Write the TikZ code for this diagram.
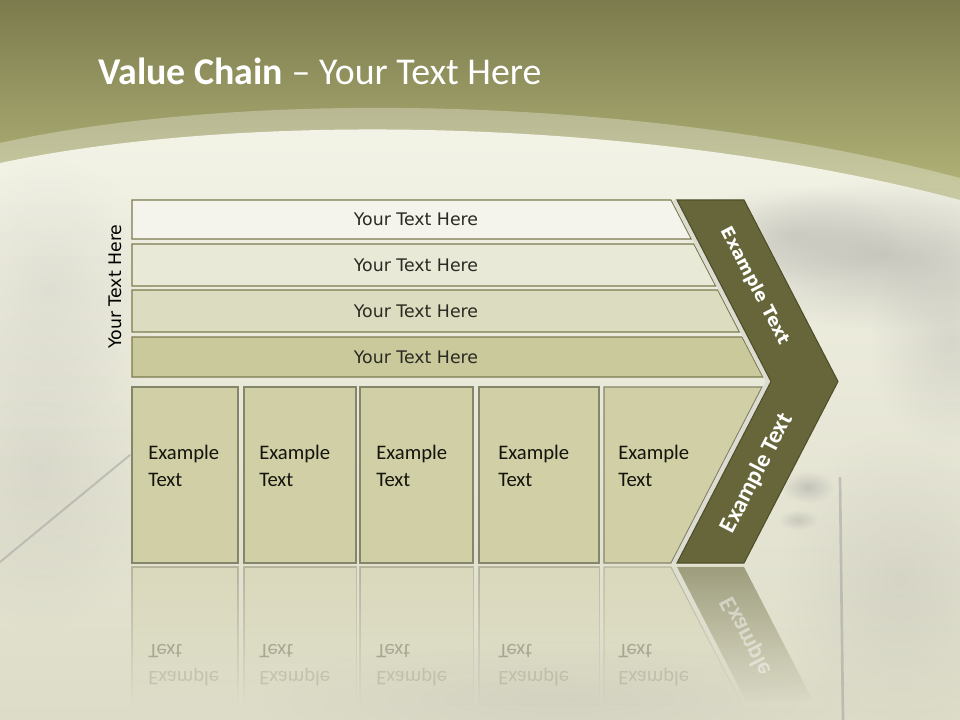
\documentclass[tikz,border=0pt]{standalone}
\usepackage{fontspec}
\setmainfont{Carlito}
\newfontfamily\dvs{DejaVu Sans}
\usetikzlibrary{fadings}
\definecolor{oliveTop}{HTML}{7B7B4D}
\definecolor{oliveLow}{HTML}{B7B97C}
\definecolor{bgTop}{HTML}{F3F3E7}
\definecolor{bgMid}{HTML}{E4E3D0}
\definecolor{bgBot}{HTML}{DDDCC8}
\definecolor{barA}{HTML}{F4F4EC}
\definecolor{barB}{HTML}{E9E9D8}
\definecolor{barC}{HTML}{DCDCC0}
\definecolor{barD}{HTML}{C9C99C}
\definecolor{barline}{HTML}{7B7B4E}
\definecolor{bartxt}{HTML}{2A2A22}
\definecolor{boxfill}{HTML}{D0CFA5}
\definecolor{boxline}{HTML}{85856C}
\definecolor{boxtxt}{HTML}{14140C}
\definecolor{chev}{HTML}{66663A}
\definecolor{chevline}{HTML}{4E4E2A}
\definecolor{stripcol}{HTML}{DCDCD2}
\definecolor{blot}{HTML}{A8A8A4}
\tikzfading[name=reflfade, top color=transparent!55, bottom color=transparent!100]
\tikzfading[name=chevfade, top color=transparent!45, bottom color=transparent!100]
\tikzfading[name=softblob, inner color=transparent!0, outer color=transparent!100]
\tikzset{
  barshape/.style={draw=barline, line width=0.8pt},
  bartext/.style={font=\dvs\fontsize{13}{15}\selectfont, text=bartxt, inner sep=0pt, anchor=base},
  boxshape/.style={draw=boxline, line width=0.8pt, fill=boxfill},
  boxtext/.style={font=\fontsize{15.5}{19}\selectfont, text=boxtxt, inner sep=0pt, anchor=base west},
  chevshape/.style={fill=chev, draw=chevline, line width=0.8pt},
  chevtextA/.style={font=\dvs\bfseries\fontsize{13}{15}\selectfont, text=white, inner sep=0pt},
  chevtextB/.style={font=\bfseries\fontsize{18}{21}\selectfont, text=white, inner sep=0pt},
  stripline/.style={draw=stripcol, line width=3pt},
  blotch/.style={fill=blot, path fading=softblob},
}
\begin{document}
\begin{tikzpicture}[x=0.75pt, y=-0.75pt]
\useasboundingbox (0,0) rectangle (960,720);
\clip (0,0) rectangle (960,720);
% ---------- background ----------
\shade[top color=oliveTop, bottom color=oliveLow] (0,0) rectangle (960,210);
\fill[white, opacity=0.30] (0,143) .. controls (250,88) and (650,96) .. (960,178) -- (960,720) -- (0,720) -- cycle;
\shade[top color=bgTop, middle color=bgMid, bottom color=bgBot]
  (0,163) .. controls (250,110) and (650,118) .. (960,200) -- (960,720) -- (0,720) -- cycle;
% texture blotches
\fill[blotch, opacity=0.55] (885,255) ellipse (170 and 75);
\fill[blotch, opacity=0.35] (790,235) ellipse (110 and 50);
\fill[blotch, opacity=0.30] (950,340) ellipse (80 and 110);
\fill[blotch, opacity=0.22] (40,470) ellipse (120 and 160);
\fill[blotch, opacity=0.20] (50,290) ellipse (110 and 130);
\fill[blotch, opacity=0.22] (900,580) ellipse (120 and 150);
\fill[blotch, opacity=0.18] (560,700) ellipse (300 and 60);
\fill[blotch, opacity=0.55] (808,487) ellipse (26 and 16);
\fill[blotch, opacity=0.45] (798,520) ellipse (20 and 10);
\draw[blot, line width=1.5pt, opacity=0.6, line cap=round] (0,562) -- (130,455);
\draw[blot, line width=2pt, opacity=0.6, line cap=round] (840,478) -- (843,720);
% ---------- side label ----------
\node[font=\dvs\fontsize{13}{15}\selectfont, text=black, rotate=90, inner sep=0pt] (side) at (115,286.5) {Your Text Here};
% ---------- title ----------
\node[font=\fontsize{28.4}{32}\selectfont, text=white, anchor=base west, inner sep=0pt] (title) at (98,85) {\textbf{Value Chain} – Your Text Here};
% ---------- bars ----------
\draw[barshape, fill=barA] (132,200) -- (671,200) -- (691.3,239) -- (132,239) -- cycle;
\draw[barshape, fill=barB] (132,244) -- (693.8,244) -- (715.7,286) -- (132,286) -- cycle;
\draw[barshape, fill=barC] (132,290) -- (717.7,290) -- (739.5,332) -- (132,332) -- cycle;
\draw[barshape, fill=barD] (132,337) -- (742.1,337) -- (762.9,377) -- (132,377) -- cycle;
\node[bartext] (bt1) at (416,225.5) {Your Text Here};
\node[bartext] (bt2) at (416,272) {Your Text Here};
\node[bartext] (bt3) at (416,317.5) {Your Text Here};
\node[bartext] (bt4) at (416,363) {Your Text Here};
% ---------- boxes ----------
\draw[boxshape] (132,387) rectangle (238,563);
\draw[boxshape] (244,387) rectangle (356,563);
\draw[boxshape] (360,387) rectangle (473,563);
\draw[boxshape] (479,387) rectangle (599,563);
\draw[boxshape] (604,387) -- (762,387) -- (671,563) -- (604,563) -- cycle;
\foreach \nx/\tx in {1/148, 2/259, 3/376, 4/498, 5/618}{
  \node[boxtext] (ba\nx) at (\tx,459) {Example};
  \node[boxtext] (bb\nx) at (\tx,486) {Text};
}
% ---------- box reflections ----------
\draw[boxshape, path fading=reflfade] (132,567) rectangle (238,705);
\draw[boxshape, path fading=reflfade] (244,567) rectangle (356,705);
\draw[boxshape, path fading=reflfade] (360,567) rectangle (473,705);
\draw[boxshape, path fading=reflfade] (479,567) rectangle (599,705);
\draw[boxshape, path fading=reflfade] (604,567) -- (671,567) -- (742.3,705) -- (604,705) -- cycle;
\foreach \nx/\tx in {1/148, 2/259, 3/376, 4/498, 5/618}{
  \node[boxtext, yscale=-1, opacity=0.26] (rb\nx) at (\tx,644) {Text};
  \node[boxtext, yscale=-1, opacity=0.12] (ra\nx) at (\tx,671) {Example};
}
% ---------- chevron ----------
\draw[stripline] (674,200) -- (768,381.5) -- (674,563);
\draw[chevshape] (677,200) -- (744,200) -- (838,381.5) -- (744,563) -- (677,563) -- (771,381.5) -- cycle;
\node[chevtextA, rotate=-62.55] (c1) at (755,286) {Example Text};
\node[chevtextB, rotate=62.7] (c2) at (757,473) {Example Text};
% chevron reflection
\draw[stripline, path fading=reflfade] (674,567) -- (744,703);
\fill[chev, path fading=chevfade] (677,567) -- (744,567) -- (814,703) -- (747,703) -- cycle;
\begin{scope}
  \clip (650,567) rectangle (900,672);
  \node[chevtextB, rotate=-62.7, yscale=-1, opacity=0.45] (c2r) at (757,657) {Example Text};
\end{scope}
\end{tikzpicture}
\end{document}
